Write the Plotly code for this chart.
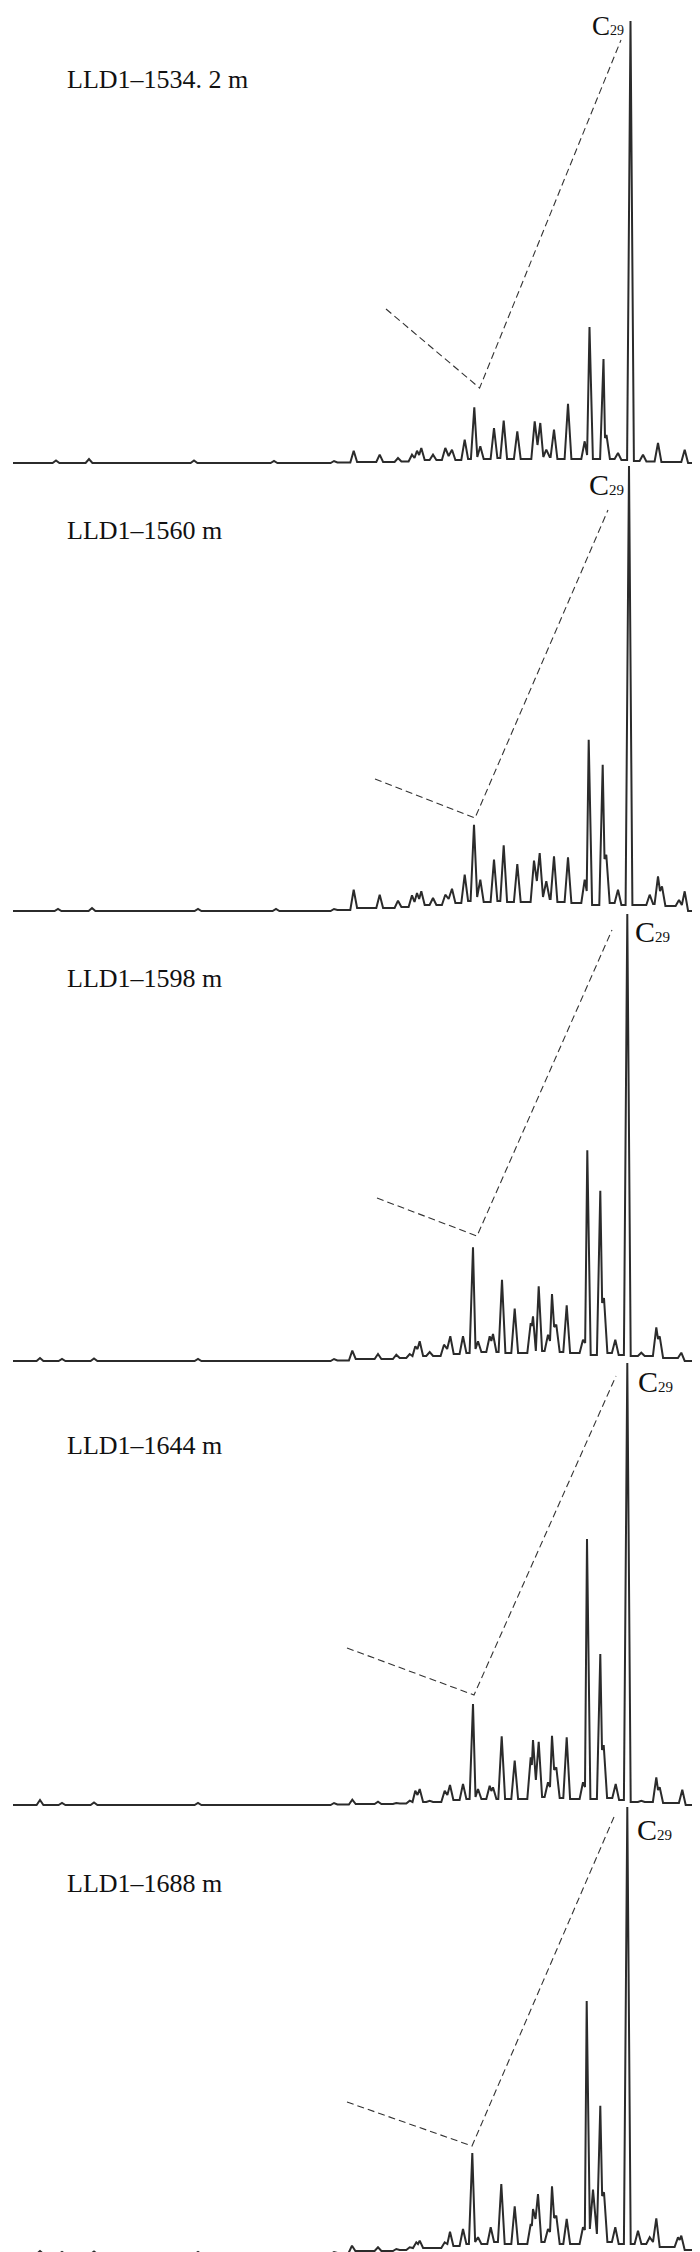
import plotly.graph_objects as go

W, H = 700, 2252

sample_labels = ["LLD1–1534. 2 m", "LLD1–1560 m", "LLD1–1598 m", "LLD1–1644 m", "LLD1–1688 m"]

# ---- Panel 1: LLD1-1534.2 m (peak positions, apex heights, valley levels between peaks) ----
p1_x = [48, 81, 186, 266, 326, 345.7, 371.7, 390, 404, 409, 413.3, 425, 437.3, 444, 456.7, 466.3,
        472.3, 486, 495.7, 509.3, 526.7, 532.3, 538.3, 546, 560, 576.7, 581.5, 595.5, 598.5, 610,
        622.5, 635, 650, 676.7]
p1_h = [2.5, 4, 2.5, 2, 2, 12.3, 8.3, 5, 8.3, 12.3, 15, 8.3, 15, 13.3, 23.3, 55.7, 16.7, 35, 42.3,
        31.7, 41.7, 40, 13.3, 33.3, 59.3, 21.7, 136, 104, 28, 10, 442, 8.3, 20, 13.3]
p1_v = [0, 0, 0, 0, 0, 0.5, 1, 1, 1.5, 5, 8, 3, 3, 7, 3, 4, 6, 4, 5, 4, 4, 18, 6, 6, 4, 4, 8, 4,
        25, 4, 3, 2, 1.5, 1, 0]

# ---- Panel 2: LLD1-1560 m ----
p2_x = [50, 84, 190, 268, 326, 345.7, 371.7, 390, 404, 409, 413.3, 425, 437.3, 444, 456.7, 466,
        472.3, 486, 495.7, 509.3, 526, 531.7, 538.3, 546, 560, 576.7, 580.7, 594.7, 598.3, 610,
        621, 641.7, 650, 654, 671, 676.7]
p2_h = [2, 3, 2, 2, 2, 21.3, 16.3, 10.3, 15.7, 18, 19.7, 13, 16.3, 22.3, 36.3, 86.3, 31.3, 51.3,
        65.7, 47, 50.3, 58, 29.7, 54.7, 53.7, 31.3, 171.3, 146.3, 56.3, 21.3, 445, 16.3, 34.7,
        24.7, 11, 19.7]
p2_v = [0, 0, 0, 0, 0, 1, 3, 3, 4, 9, 12, 6, 6, 12, 8, 10, 14, 9, 10, 9, 9, 30, 14, 12, 9, 8, 20,
        6, 52, 8, 6, 6, 7, 20, 5, 6, 0]

# ---- Panel 3: LLD1-1598 m ----
p3_x = [32, 54, 86, 190, 326, 344.3, 370, 388.3, 401.7, 407.3, 411.7, 421.7, 436, 442.3, 455, 465,
        470, 481.7, 485, 494, 506.7, 522.7, 525, 530.7, 540, 544, 548.3, 558.7, 575, 579.3, 592.3,
        596, 607.3, 619.3, 633.3, 648.3, 651.7, 673.3]
p3_h = [3, 2, 2.5, 2, 2, 10.3, 7, 6.3, 7, 14.7, 19.7, 9, 16.3, 24.7, 24.7, 113.7, 19.7, 24.7, 27,
        81.3, 52.3, 38, 44.7, 74.7, 26.3, 67, 36.3, 55.7, 21.3, 210.7, 170.3, 63, 21.3, 447, 8.3,
        33.7, 24.7, 8.3]
p3_v = [0, 0, 0, 0, 0, 0.5, 2, 2, 3, 5, 12, 5, 5, 12, 7, 8, 12, 9, 20, 9, 8, 8, 35, 10, 10, 20, 34,
        9, 8, 18, 6, 58, 8, 6, 5, 5, 22, 3, 0]

# ---- Panel 4: LLD1-1644 m ----
p4_x = [32, 54, 86, 190, 326, 344.3, 370, 388.3, 401.7, 407.3, 411.7, 421.7, 436.7, 442, 455, 465,
        470, 481.7, 485, 493.7, 506.7, 522.7, 525, 530.7, 540, 544, 548.3, 558.7, 575, 579, 592.3,
        595.7, 607.7, 619.3, 633.3, 648.3, 651.7, 674.3]
p4_h = [5, 2, 2.5, 2, 2, 5.3, 3.3, 2, 4.3, 14.3, 16, 4.3, 14.3, 20, 21, 101, 16, 19.3, 17.7, 68.7,
        44.3, 47.7, 65, 63.3, 22.7, 69.3, 37.7, 67.7, 22.7, 266, 151, 60, 21, 442, 4.3, 27.7,
        17.7, 15.3]
p4_v = [0, 0, 0, 0, 0, 0.5, 1, 1, 1.5, 3, 10, 3, 3, 10, 5, 6, 8, 6, 14, 6, 6, 6, 40, 25, 8, 18, 35,
        7, 6, 18, 6, 55, 7, 5, 3, 3, 15, 2, 0]

# ---- Panel 5: LLD1-1688 m ----
p5_x = [32, 54, 86, 190, 326, 344, 370, 388.3, 401.7, 408.3, 411.7, 436.7, 442, 455, 464.3, 470,
        482.7, 493.3, 506.7, 522.7, 525, 530, 540, 544, 548.3, 558.7, 575, 578.7, 585, 592.3, 596,
        607.3, 619.3, 630, 641.7, 648.3, 670, 673.3, 688.3]
p5_h = [3, 2, 2.5, 2, 2, 8.3, 6.7, 5, 6.7, 11.7, 13.3, 11.7, 22.3, 25, 101, 16.7, 26.7, 70, 47.7,
        30, 45, 60, 25, 67.7, 38.3, 35, 26.7, 253, 64.3, 148.3, 61.7, 26.7, 447, 23.3, 16.7, 35.7,
        16.7, 18.3, 5]
p5_v = [0, 0, 0, 0, 0, 1, 3, 3, 4, 6, 10, 6, 10, 8, 10, 12, 10, 12, 10, 10, 28, 35, 12, 22, 36, 10,
        10, 24, 25, 20, 58, 12, 10, 10, 10, 12, 7, 14, 4, 0]

panels = [(p1_x, p1_h, p1_v), (p2_x, p2_h, p2_v), (p3_x, p3_h, p3_v),
          (p4_x, p4_h, p4_v), (p5_x, p5_h, p5_v)]

# ---- layout positions (pixels): x, y, anchor, font size of "C" ----
baseline_px = [455, 903, 1353, 1797, 2246]
label_y_px = [71, 522, 971, 1437, 1875]
c29_label = [(617, 18, "right", 27), (617, 476, "right", 30), (626, 923, "left", 30),
             (629, 1373, "left", 30), (628, 1821, "left", 30)]
dash_paths = [[(378, 301), (471.6, 380), (613, 32)],
              [(367, 771), (467, 810), (600, 502)],
              [(369, 1190), (469, 1228), (604, 922)],
              [(339, 1640), (466, 1687), (608, 1368)],
              [(339, 2094), (464, 2138), (606, 1809)]]

HALF_W = 3.4
X_START, X_END = 5, 697


def build_trace(px, ph, pv):
    xs, ys = [X_START], [pv[0]]
    n = len(px)
    for i in range(n):
        x, h = px[i], ph[i]
        if i == 0 or x - px[i - 1] >= 2 * HALF_W:
            xs.append(x - HALF_W)
            ys.append(pv[i])
        xs.append(x)
        ys.append(h)
        if i == n - 1 or px[i + 1] - x >= 2 * HALF_W:
            xs.append(x + HALF_W)
            ys.append(pv[i + 1])
        else:
            xs.append((x + px[i + 1]) / 2)
            ys.append(pv[i + 1])
    xs.append(X_END)
    ys.append(pv[-1])
    return xs, ys


fig = go.Figure()
layout = dict(width=W, height=H, margin=dict(l=0, r=0, t=0, b=0),
              paper_bgcolor="white", plot_bgcolor="rgba(0,0,0,0)", showlegend=False)

annotations = []
shapes = []
for k, (px, ph, pv) in enumerate(panels):
    xs, ys = build_trace(px, ph, pv)
    sfx = "" if k == 0 else str(k + 1)
    fig.add_trace(go.Scatter(x=xs, y=ys, mode="lines", xaxis="x" + sfx, yaxis="y" + sfx,
                             line=dict(color="#2b2b2b", width=2), hoverinfo="skip"))
    b = baseline_px[k]
    top = b - (max(ph) + 8)
    bot = min(b + 6, H)
    layout["xaxis" + sfx] = dict(range=[0, W], domain=[0, 1], visible=False, fixedrange=True,
                                 anchor="y" + sfx)
    layout["yaxis" + sfx] = dict(range=[-(bot - b), b - top], domain=[1 - bot / H, 1 - top / H],
                                 visible=False, fixedrange=True, anchor="x" + sfx)
    annotations.append(dict(x=57 / W, y=1 - label_y_px[k] / H, xref="paper", yref="paper",
                            text=sample_labels[k], showarrow=False, xanchor="left",
                            yanchor="middle",
                            font=dict(family="Liberation Serif", size=26, color="#111")))
    cx, cy, anc, fs = c29_label[k]
    sub = round(fs * 0.5)
    annotations.append(dict(x=cx / W, y=1 - cy / H, xref="paper", yref="paper",
                            text=f"C<span style='font-size:{sub}px'>29</span>",
                            showarrow=False, xanchor=anc, yanchor="middle", borderpad=0,
                            font=dict(family="Liberation Serif", size=fs, color="#111")))
    pts = dash_paths[k]
    path = "M " + " L ".join(f"{x / W:.5f},{1 - y / H:.5f}" for x, y in pts)
    shapes.append(dict(type="path", path=path, xref="paper", yref="paper",
                       line=dict(color="#333", width=1.1, dash="7px,4px")))

layout["annotations"] = annotations
layout["shapes"] = shapes
fig.update_layout(**layout)
fig.write_html("out.html")
